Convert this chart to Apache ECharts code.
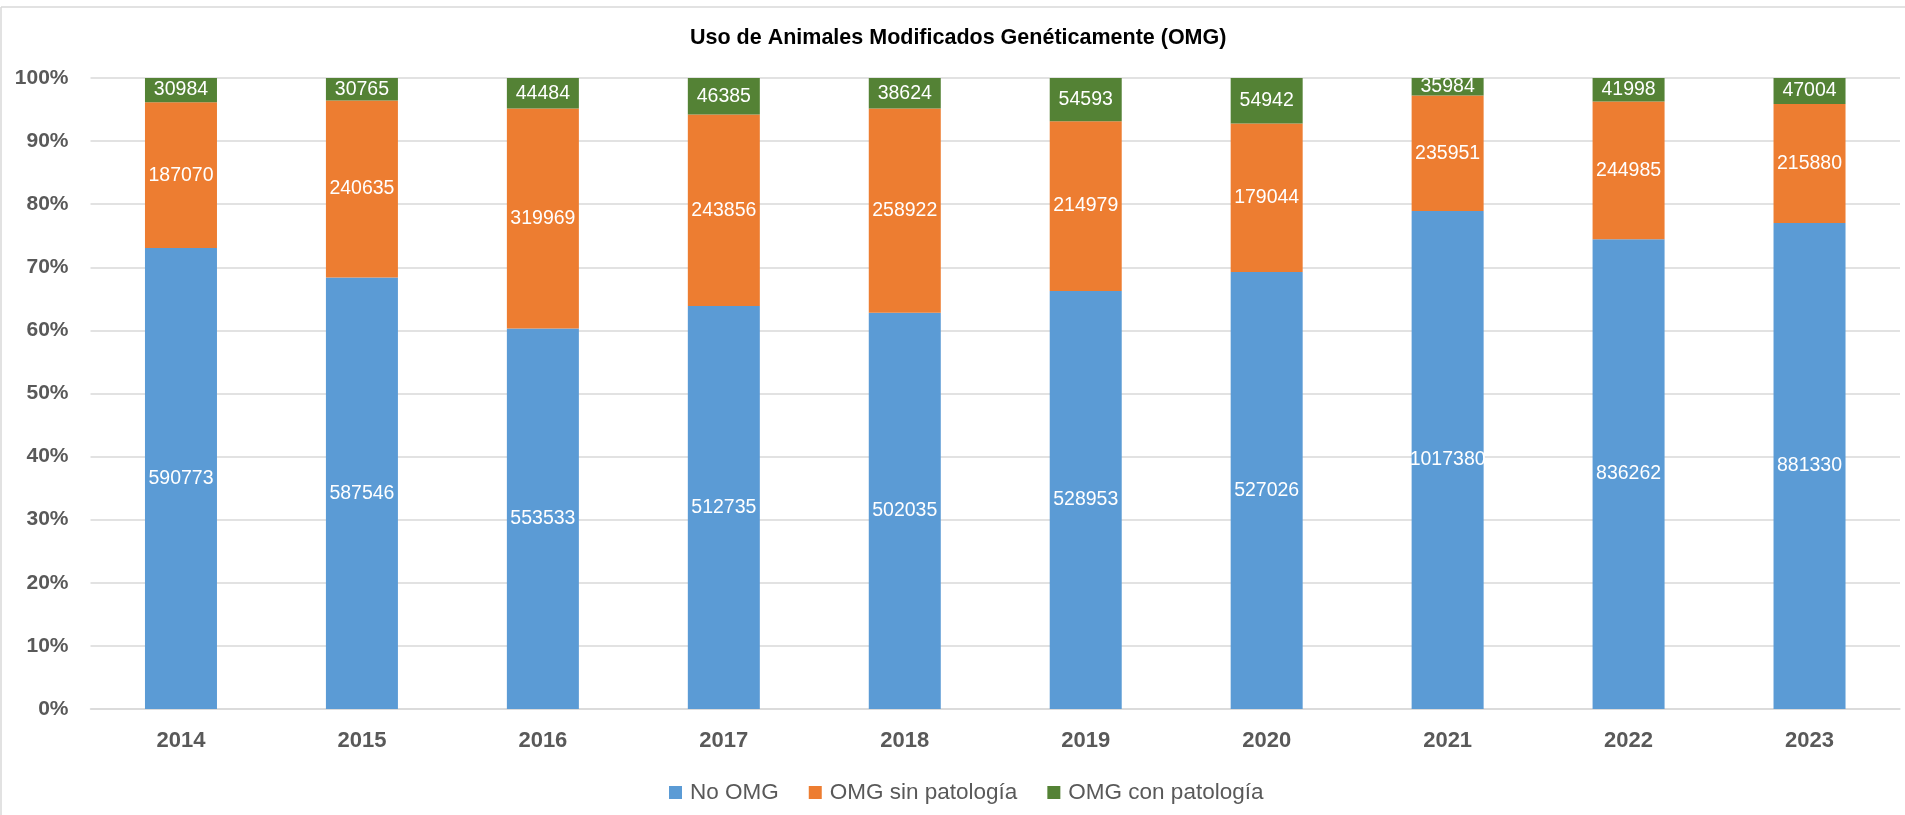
<!DOCTYPE html>
<html>
<head>
<meta charset="utf-8">
<script src="https://cdn.jsdelivr.net/npm/echarts@6/dist/echarts.min.js"></script>
<style>
html,body{margin:0;padding:0;background:#fff;}
#main{width:1905px;height:815px;}
</style>
</head>
<body>
<div id="main"></div>
<script>
const categories = ['2014','2015','2016','2017','2018','2019','2020','2021','2022','2023'];
const noOMG = [590773,587546,553533,512735,502035,528953,527026,1017380,836262,881330];
const omgSinPatologia = [187070,240635,319969,243856,258922,214979,179044,235951,244985,215880];
const omgConPatologia = [30984,30765,44484,46385,38624,54593,54942,35984,41998,47004];
const seriesNames = ['No OMG','OMG sin patología','OMG con patología'];
const colors = ['#5B9BD5','#ED7D31','#548235'];

const raw = [noOMG, omgSinPatologia, omgConPatologia];
const totals = categories.map((c,i)=>raw.reduce((s,a)=>s+a[i],0));

const font = '"Liberation Sans", Arial, sans-serif';
const chart = echarts.init(document.getElementById('main'));
chart.setOption({
  animation:false,
  backgroundColor:'#fff',
  color:colors,
  title:{
    text:'Uso de Animales Modificados Genéticamente (OMG)',
    left:690, top:27, padding:0,
    textStyle:{fontFamily:font,fontSize:21.5,fontWeight:'bold',color:'#000'}
  },
  legend:{
    left:664, top:776, itemWidth:13, itemHeight:13, itemGap:30,
    icon:'rect',
    textStyle:{fontFamily:font,fontSize:22.5,color:'#595959',padding:[0,0,0,3]},
    data:seriesNames
  },
  grid:{left:90.5,right:5,top:78,bottom:106},
  xAxis:{
    type:'category', data:categories,
    axisLine:{show:true,lineStyle:{color:'#D9D9D9',width:1.5}},
    axisTick:{show:false},
    axisLabel:{fontFamily:font,fontSize:22,fontWeight:'bold',color:'#595959',margin:21}
  },
  yAxis:{
    type:'value', min:0, max:100, interval:10,
    axisLine:{show:false}, axisTick:{show:false},
    axisLabel:{formatter:'{value}%',fontFamily:font,fontSize:21,fontWeight:'bold',color:'#595959',margin:22},
    splitLine:{lineStyle:{color:'#D9D9D9',width:1.5}}
  },
  graphic:[
    {type:'line',shape:{x1:1,y1:7,x2:1905,y2:7},style:{stroke:'#D9D9D9',lineWidth:1.5},silent:true},
    {type:'line',shape:{x1:1,y1:7,x2:1,y2:815},style:{stroke:'#D9D9D9',lineWidth:1.5},silent:true}
  ],
  series: raw.map((arr,k)=>({
    name:seriesNames[k],
    type:'bar',
    stack:'total',
    barWidth:72,
    data:arr.map((v,i)=>({value:v/totals[i]*100, raw:v})),
    label:{
      show:true, position:'inside', color:'#fff',
      fontFamily:font, fontSize:19.5,
      formatter:p=>String(p.data.raw)
    }
  }))
});
</script>
</body>
</html>
